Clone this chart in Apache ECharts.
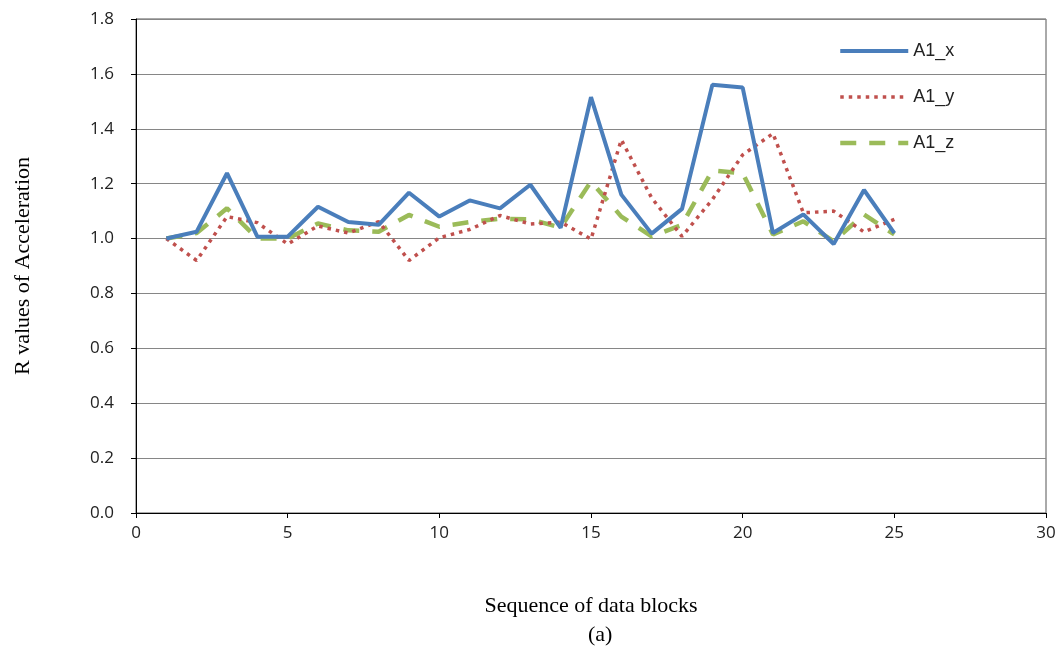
<!DOCTYPE html>
<html><head><meta charset="utf-8">
<script src="https://cdn.jsdelivr.net/npm/echarts@6/dist/echarts.min.js"></script>
<style>html,body{margin:0;padding:0;background:#fff}#c{width:1063px;height:656px}</style>
</head><body><div id="c"></div>
<script>
const xs = [1,2,3,4,5,6,7,8,9,10,11,12,13,14,15,16,17,18,19,20,21,22,23,24,25];
const a1x = [1.00,1.025,1.238,1.007,1.007,1.116,1.06,1.05,1.167,1.08,1.139,1.11,1.196,1.039,1.515,1.16,1.018,1.108,1.56,1.55,1.02,1.088,0.98,1.177,1.02];
const a1y = [1.00,0.92,1.08,1.058,0.98,1.046,1.02,1.062,0.92,1.003,1.033,1.084,1.053,1.06,0.998,1.36,1.148,1.008,1.142,1.305,1.383,1.094,1.10,1.024,1.07];
const a1z = [1.00,1.02,1.11,1.0,1.0,1.055,1.03,1.025,1.086,1.043,1.06,1.072,1.07,1.04,1.208,1.08,1.008,1.05,1.248,1.238,1.015,1.063,0.99,1.088,1.015];
const seriesNames = ['A1_x','A1_y','A1_z'];
const xTicks = {min:0, max:30, interval:5};
const yTicks = {min:0, max:1.8, interval:0.2};

const styles = [
  {color:'#4A7EBB', width:4, type:'solid'},
  {color:'#C0504D', width:3.5, type:[3.5,5]},
  {color:'#9BBB59', width:4.5, type:[16,13]}
];
const pair = arr => xs.map((x,i)=>[x,arr[i]]);
const chart = echarts.init(document.getElementById('c'), null, {renderer:'canvas'});
const lblFont = {fontFamily:'"Liberation Sans Narrow","Open Sans",sans-serif', fontSize:17, color:'#222'};
chart.setOption({
  animation:false,
  grid:{left:136, right:17, top:19, bottom:143, show:true, borderColor:'#555', borderWidth:1},
  legend:{
    orient:'vertical', left:833, top:37, itemWidth:68, itemHeight:14, itemGap:28,
    itemStyle:{opacity:0},
    textStyle:{fontFamily:'"Liberation Sans","Open Sans",sans-serif', fontSize:18, color:'#222'},
    data:seriesNames.map((n,i)=>({name:n, lineStyle:{width:styles[i].width, type:styles[i].type, color:styles[i].color}}))
  },
  xAxis:{
    type:'value', min:xTicks.min, max:xTicks.max, interval:xTicks.interval,
    name:'Sequence of data blocks', nameLocation:'middle', nameGap:82,
    nameTextStyle:{fontFamily:'"Liberation Serif","DejaVu Serif",serif', fontSize:22, color:'#000'},
    axisLine:{onZero:false, lineStyle:{color:'#000', width:1}},
    axisTick:{show:true, length:5, lineStyle:{color:'#000'}},
    axisLabel:{...lblFont, margin:12},
    splitLine:{show:false}
  },
  yAxis:{
    type:'value', min:yTicks.min, max:yTicks.max, interval:yTicks.interval,
    name:'R values of Acceleration', nameLocation:'middle', nameGap:102,
    nameTextStyle:{fontFamily:'"Liberation Serif","DejaVu Serif",serif', fontSize:22, color:'#000'},
    axisLine:{show:true, lineStyle:{color:'#000', width:1}},
    axisTick:{show:true, length:5, lineStyle:{color:'#000'}},
    axisLabel:{...lblFont, margin:22, formatter:v=>v.toFixed(1)},
    splitLine:{show:true, lineStyle:{color:'#868686', width:1}}
  },
  graphic:[{type:'text', left:588, top:624, style:{text:'(a)', font:'22px "Liberation Serif", serif', fill:'#000'}}],
  series:[0,1,2].map(i=>({
    name:seriesNames[i], type:'line', data:pair([a1x,a1y,a1z][i]), symbol:'none', z:3-i,
    lineStyle:{color:styles[i].color, width:styles[i].width, type:styles[i].type},
    itemStyle:{color:styles[i].color}
  }))
});
</script></body></html>
